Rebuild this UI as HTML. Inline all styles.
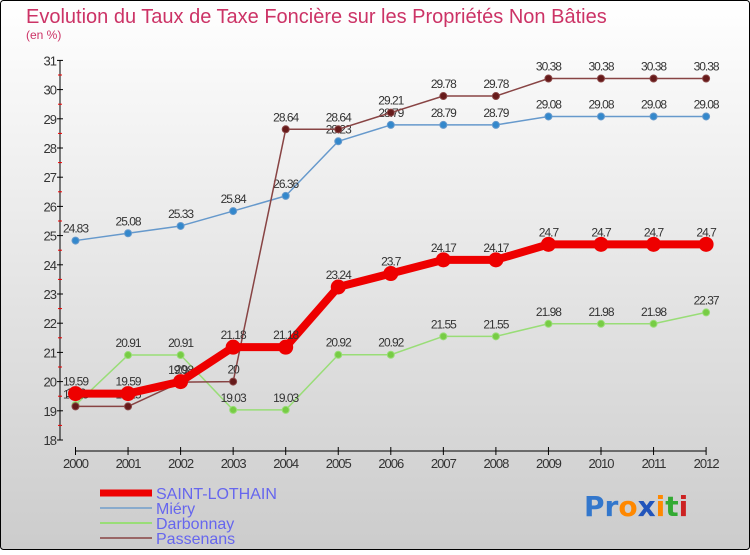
<!DOCTYPE html>
<html><head><meta charset="utf-8">
<style>
html,body{margin:0;padding:0}
body{width:750px;height:550px;overflow:hidden;font-family:"Liberation Sans",sans-serif}
</style></head>
<body>
<svg id="chart" width="750" height="550" xmlns="http://www.w3.org/2000/svg">
<defs>
<linearGradient id="bg" x1="0" y1="0" x2="0" y2="1">
<stop offset="0" stop-color="#ffffff"/><stop offset="1" stop-color="#cccccc"/>
</linearGradient>
</defs>
<rect x="0.5" y="0.5" width="749" height="549" rx="3" fill="url(#bg)" stroke="#000"/>
<text x="26" y="23" font-size="20" fill="#cc3366">Evolution du Taux de Taxe Foncière sur les Propriétés Non Bâties</text>
<text x="26" y="39" font-size="12" fill="#cc3366">(en %)</text>
<g id="axes"></g>
<g id="series"></g>
<g id="legend">
<line x1="100" y1="493" x2="152" y2="493" stroke="#ee0000" stroke-width="7"/>
<text x="156" y="499" font-size="16" fill="#6666ee">SAINT-LOTHAIN</text>
<line x1="100" y1="508" x2="152" y2="508" stroke="#88aacc" stroke-width="2"/>
<text x="156" y="514" font-size="16" fill="#6666ee">Miéry</text>
<line x1="100" y1="523" x2="152" y2="523" stroke="#99dd77" stroke-width="2"/>
<text x="156" y="529" font-size="16" fill="#6666ee">Darbonnay</text>
<line x1="100" y1="538" x2="152" y2="538" stroke="#996666" stroke-width="2"/>
<text x="156" y="544" font-size="16" fill="#6666ee">Passenans</text>
</g>
<g font-size="28" font-weight="bold" font-family="DejaVu Sans,sans-serif">
<text x="584" y="516"><tspan fill="#3377cc">Pr</tspan><tspan fill="#ff8800">o</tspan><tspan fill="#2255bb">x</tspan><tspan fill="#ff8800">i</tspan><tspan fill="#33aa33">t</tspan><tspan fill="#cc2222">i</tspan></text>
</g>
</svg>
<script>
const years=["2000","2001","2002","2003","2004","2005","2006","2007","2008","2009","2010","2011","2012"];
const yTicks=[18,19,20,21,22,23,24,25,26,27,28,29,30,31];
const saintLothain=[19.59,19.59,20,21.18,21.18,23.24,23.7,24.17,24.17,24.7,24.7,24.7,24.7];
const miery=[24.83,25.08,25.33,25.84,26.36,28.23,28.79,28.79,28.79,29.08,29.08,29.08,29.08];
const darbonnay=[19.2,20.91,20.91,19.03,19.03,20.92,20.92,21.55,21.55,21.98,21.98,21.98,22.37];
const passenans=[19.15,19.15,19.98,20,28.64,28.64,29.21,29.78,29.78,30.38,30.38,30.38,30.38];

const NS="http://www.w3.org/2000/svg";
const x0=75.5,dx=52.55,yBase=440,yMin=18,pxU=29.2;
const X=i=>x0+i*dx, Y=v=>yBase-(v-yMin)*pxU;
function mk(tag,attrs,parent){const e=document.createElementNS(NS,tag);for(const k in attrs)e.setAttribute(k,attrs[k]);parent.appendChild(e);return e;}
const axes=document.getElementById('axes'),ser=document.getElementById('series');
let ya=mk('line',{x1:60,y1:Y(31),x2:60,y2:Y(18),stroke:'#000','stroke-width':1},axes);


let xa=mk('line',{x1:X(0),y1:451,x2:X(12),y2:451,stroke:'#000','stroke-width':1},axes);


yTicks.forEach((v,i)=>{
 mk('line',{x1:57,y1:Y(v),x2:63,y2:Y(v),stroke:'#000'},axes);
 if(i<yTicks.length-1) mk('line',{x1:58,y1:Y(v+0.5),x2:62,y2:Y(v+0.5),stroke:'#ee0000'},axes);
 const t=mk('text',{x:56,y:Y(v)+5,'text-anchor':'end','font-size':13,fill:'#333','letter-spacing':'-1'},axes);
 
 
 t.textContent=v;
});
years.forEach((yr,i)=>{
 mk('line',{x1:X(i),y1:447,x2:X(i),y2:455,stroke:'#000'},axes);
 const t=mk('text',{x:X(i),y:468,'text-anchor':'middle','font-size':13,fill:'#333','letter-spacing':'-1'},axes);
 
 
 t.textContent=yr;
});
function draw(name,vals,color,dot,w,r){
 const g=mk('g',{},ser);
 
 
 mk('polyline',{points:vals.map((v,i)=>X(i)+','+Y(v)).join(' '),fill:'none',stroke:color,'stroke-width':w,'stroke-linejoin':'round'},g);
 vals.forEach((v,i)=>{
  const c=mk('circle',{cx:X(i),cy:Y(v),r:r,fill:dot,stroke:color,'stroke-width':1},g);
  
  
  const t=mk('text',{x:X(i),y:Y(v)-8,'text-anchor':'middle','font-size':12,fill:'#333','letter-spacing':'-1'},g);
  
  
  t.textContent=String(v);
 });
}
draw('miery',miery,'#6699cc','#3388cc',1.5,3.5);
draw('darbonnay',darbonnay,'#99dd77','#77cc44',1.5,3.5);
draw('passenans',passenans,'#884444','#661a1a',1.5,3.5);
draw('saint-lothain',saintLothain,'#ee0000','#ee0000',8,7);
</script>
</body></html>
